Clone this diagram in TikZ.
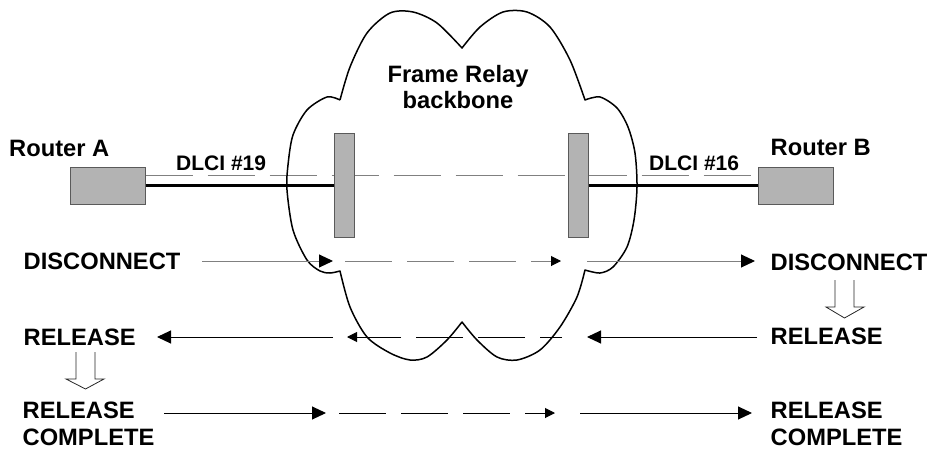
\documentclass[tikz,border=0pt]{standalone}
\usepackage{fontspec}
\setmainfont{Liberation Sans}
\usetikzlibrary{arrows.meta,backgrounds}
\definecolor{boxfill}{HTML}{B3B3B3}
\definecolor{boxedge}{HTML}{5A5A5A}
\definecolor{greyline}{HTML}{808080}
\begin{document}
\begin{tikzpicture}[x=1pt,y=-1pt,
  lbl/.style={font=\fontsize{23.7}{29}\selectfont\bfseries, inner sep=0pt, anchor=base west, align=left},
  dl/.style={font=\fontsize{21}{25}\selectfont\bfseries, inner sep=0pt, anchor=base west},
  gbox/.style={draw=boxedge, fill=boxfill, line width=1pt, inner sep=0pt},
  router/.style={gbox, minimum width=75pt, minimum height=37pt},
  pvcbar/.style={gbox, minimum width=20pt, minimum height=104pt},
  solidarr/.style={line width=1pt, -{Triangle[length=14pt,width=13pt,color=black]}},
  dasharr/.style={line width=1pt, dash pattern=on 47pt off 15pt, -{Triangle[length=10pt,width=10pt,color=black]}},
  cloudline/.style={line width=1.5pt, line join=round},
  hollow/.style={line width=0.8pt, draw=black!85, line join=miter}
]
\useasboundingbox (0,0) rectangle (929,450);

% cloud
\draw[cloudline]
  plot[smooth] coordinates {(340,100) (350,67) (367,33) (390,13) (413,12) (437,23) (462,48)}
  -- plot[smooth] coordinates {(462,48) (480,27) (503,12) (527,12) (550,27) (570,60) (585,100)}
  -- plot[smooth] coordinates {(585,100) (600,97) (617,108) (628,127) (635,153) (637,187) (634,220) (627,247) (613,267) (600,273) (585,270)}
  -- plot[smooth] coordinates {(585,270) (577,297) (560,327) (540,350) (517,360) (497,357) (477,340) (462,322)}
  -- plot[smooth] coordinates {(462,322) (447,340) (427,357) (410,360) (390,353) (367,337) (350,307) (340,271)}
  -- plot[smooth] coordinates {(340,271) (330,273) (320,271) (307,260) (293,230) (287,190) (288,165) (293,135) (307,110) (327,97) (340,100)};

% routers and PVC bars
\node[router] (ra) at (107.5,185.5) {};
\node[router] (rb) at (795.5,185.5) {};
\node[pvcbar] (bl) at (344,185) {};
\node[pvcbar] (br) at (578,185) {};

\begin{pgfonlayer}{background}
\draw[greyline, line width=1pt, dash pattern=on 47pt off 15pt]
  ([yshift=10pt]ra.east) -- ([yshift=10pt]rb.west);
\end{pgfonlayer}
\draw[line width=3pt] (ra.east) -- (bl.west |- ra.east);
\draw[line width=3pt] (br.east |- rb.west) -- (rb.west);

% labels
\node[lbl] (ta) at (9,156.5) {Router A};
\node[lbl] (tb) at (770.5,155) {Router B};
\node[dl] (d19) at (176,170) {DLCI \#19};
\node[dl] (d16) at (649,170) {DLCI \#16};
\node[lbl, anchor=base, align=center, font=\fontsize{23.7}{26}\selectfont\bfseries] (fr) at (458,108) {Frame Relay\\backbone};

\node[lbl] (discA) at (23.5,269) {DISCONNECT};
\node[lbl] (discB) at (770.5,270) {DISCONNECT};
\node[lbl] (relA) at (23.5,345) {RELEASE};
\node[lbl] (relB) at (770.5,344.5) {RELEASE};
\node[lbl, font=\fontsize{23.7}{26.5}\selectfont\bfseries] (rcA) at (22.5,445) {RELEASE\\COMPLETE};
\node[lbl, font=\fontsize{23.7}{26.5}\selectfont\bfseries] (rcB) at (770.5,445) {RELEASE\\COMPLETE};

% row 1: DISCONNECT
\coordinate (p1a) at (202,261); \coordinate (p1b) at (333,261);
\coordinate (p1c) at (345,261); \coordinate (p1d) at (561,261);
\coordinate (p1e) at (587,261); \coordinate (p1f) at (755,261);
\draw[solidarr, greyline] (p1a) -- (p1b);
\draw[dasharr, greyline] (p1c) -- (p1d);
\draw[solidarr, greyline] (p1e) -- (p1f);

% row 2: RELEASE
\coordinate (p2a) at (757,337); \coordinate (p2b) at (587,337);
\coordinate (p2c) at (562,337); \coordinate (p2d) at (347,337);
\coordinate (p2e) at (333,337); \coordinate (p2f) at (157,337);
\draw[solidarr] (p2a) -- (p2b);
\draw[dasharr, dash phase=25pt] (p2c) -- (p2d);
\draw[solidarr] (p2e) -- (p2f);

% row 3: RELEASE COMPLETE
\coordinate (p3a) at (164,413); \coordinate (p3b) at (326,413);
\coordinate (p3c) at (339,413); \coordinate (p3d) at (555,413);
\coordinate (p3e) at (580,413); \coordinate (p3f) at (752,413);
\draw[solidarr] (p3a) -- (p3b);
\draw[dasharr] (p3c) -- (p3d);
\draw[solidarr] (p3e) -- (p3f);

% hollow arrows
\draw[hollow] (835,280) -- (835,307) -- (826,307) -- (844.5,318) -- (864,307) -- (854,307) -- (854,280);
\draw[hollow] (76,352) -- (76,379) -- (66,379) -- (85.5,389) -- (104,379) -- (95,379) -- (95,352);
\end{tikzpicture}
\end{document}
